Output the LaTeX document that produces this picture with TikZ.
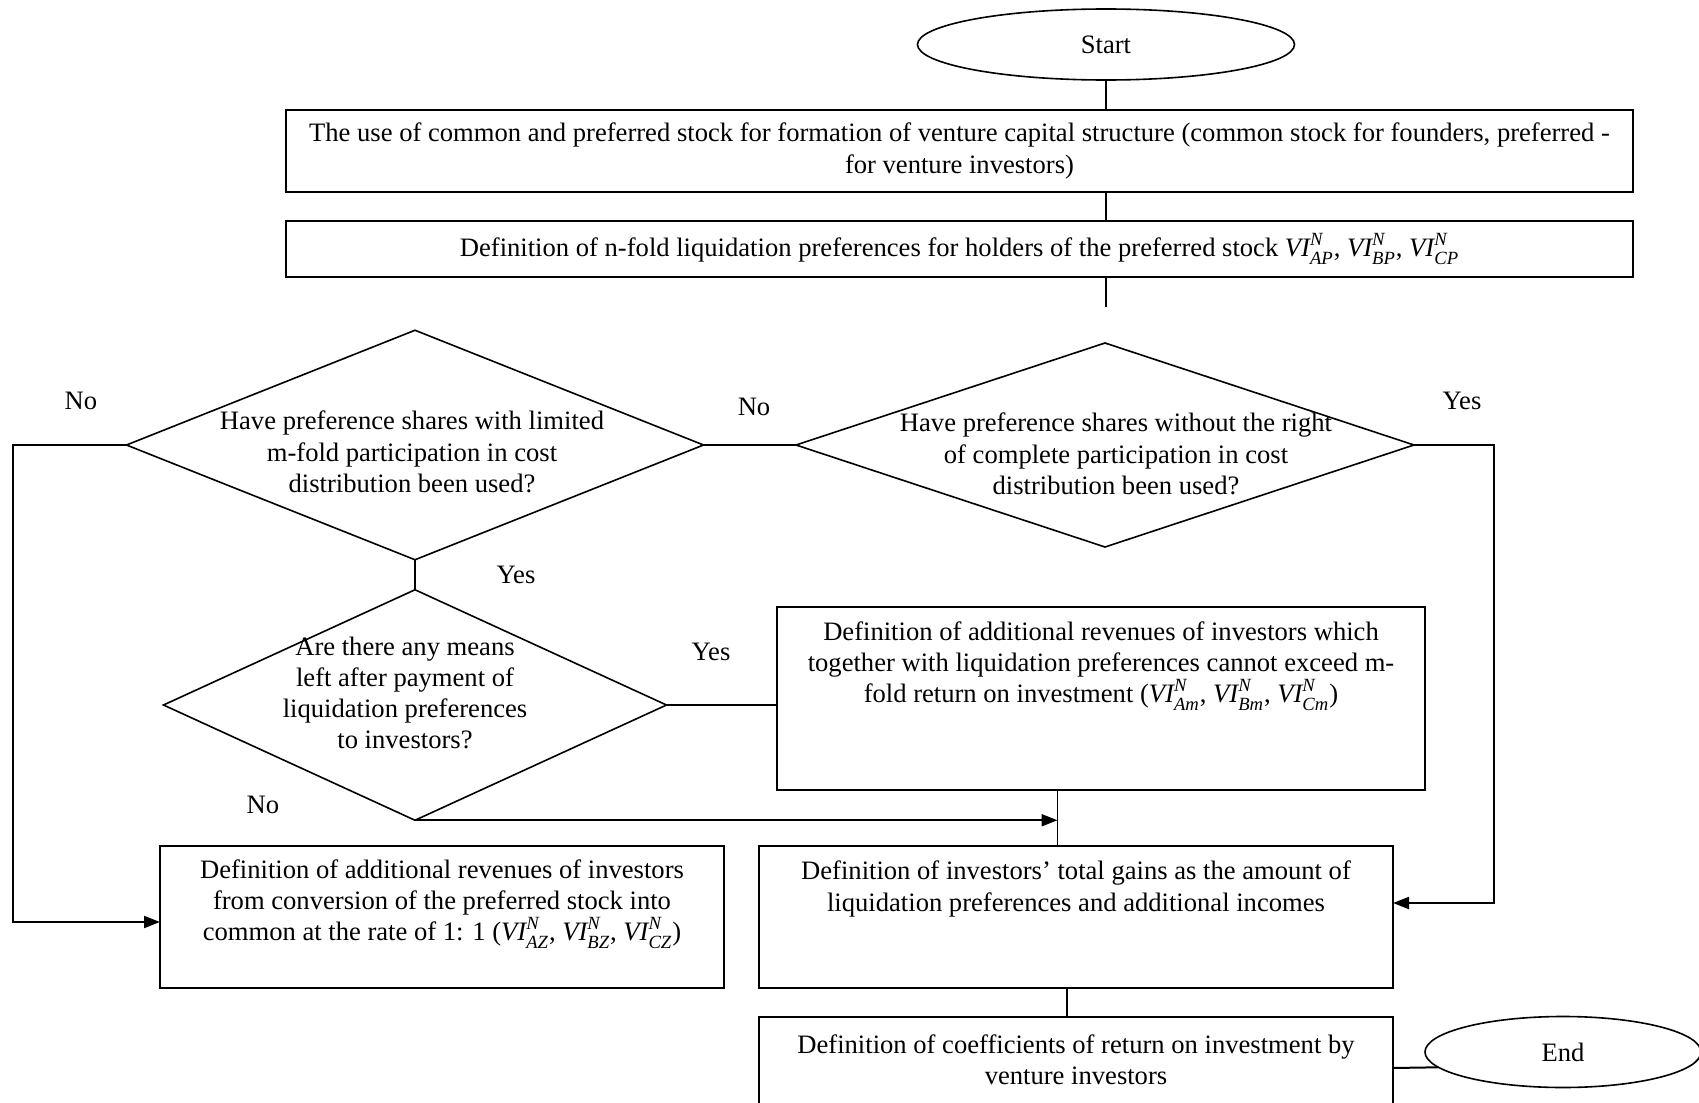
\documentclass[tikz,border=0pt]{standalone}
\usepackage{fontspec}
\setmainfont{Liberation Serif}
\usetikzlibrary{shapes.geometric,arrows.meta}
% investor value symbol VI^N_x set in the text italic
\newcommand{\vinv}[1]{$\mathit{VI}^{\mathit{N}}_{\mathit{#1}}$}
\begin{document}
\begin{tikzpicture}[x=0.5pt,y=-0.5pt,
  every node/.style={font=\fontsize{13.3}{15.6}\selectfont},
  box/.style={draw, line width=1pt, rectangle, inner sep=0pt, outer sep=0pt, align=center},
  dia/.style={draw, line width=0.8pt, diamond, inner sep=0pt, outer sep=0pt},
  term/.style={draw, line width=0.8pt, ellipse, inner sep=0pt, outer sep=0pt},
  txt/.style={align=center, inner sep=0pt},
  lbl/.style={inner sep=0pt},
  link/.style={line width=0.7pt},
  flow/.style={line width=1pt, -{Triangle[length=8pt,width=6pt]}},
  plain/.style={line width=1pt},
]
\useasboundingbox (0,0) rectangle (1699,1103);
\clip (0,0) rectangle (1699,1103);

% terminals
\node[term, minimum width=188.5pt, minimum height=35.5pt] (start) at (1106,44.5) {Start};
\node[term, minimum width=138pt, minimum height=35.5pt] (end) at (1563,1052) {End};

% process boxes
\node[box, minimum width=673.5pt, minimum height=40.75pt] (box1) at (959.5,151)
  {The use of common and preferred stock for formation of venture capital structure (common stock for founders, preferred -\\for venture investors)};
\node[box, minimum width=673.5pt, minimum height=28pt] (box2) at (959.5,249)
  {Definition of n-fold liquidation preferences for holders of the preferred stock \vinv{AP}, \vinv{BP}, \vinv{CP}};
\node[box, minimum width=324pt, minimum height=91.5pt] (boxR) at (1101,698.5) {};
\node[txt] (textR) at (1101,666)
  {Definition of additional revenues of investors which\\together with liquidation preferences cannot exceed m-\\fold return on investment (\vinv{Am}, \vinv{Bm}, \vinv{Cm})};
\node[box, minimum width=282pt, minimum height=71pt] (boxL) at (442,917) {};
\node[txt] (textL) at (442,904)
  {Definition of additional revenues of investors\\from conversion of the preferred stock into\\common at the rate of 1: 1 (\vinv{AZ}, \vinv{BZ}, \vinv{CZ})};
\node[box, minimum width=317.25pt, minimum height=71pt] (boxM) at (1075.75,917) {};
\node[txt] (textM) at (1076,889)
  {Definition of investors’ total gains as the amount of\\liquidation preferences and additional incomes};
\node[box, minimum width=317.25pt, minimum height=49pt] (boxB) at (1075.75,1066) {};
\node[txt] (textB) at (1076,1060)
  {Definition of coefficients of return on investment by\\venture investors};

% decisions
\node[dia, minimum width=288.5pt, minimum height=114.75pt] (d1) at (415,445) {};
\node[txt] (textD1) at (412,452)
  {Have preference shares with limited\\m-fold participation in cost\\distribution been used?};
\node[dia, minimum width=309pt, minimum height=102pt] (d2) at (1105,445) {};
\node[txt] (textD2) at (1116,454)
  {Have preference shares without the right\\of complete participation in cost\\distribution been used?};
\node[dia, minimum width=251.5pt, minimum height=115.25pt] (d3) at (415,705) {};
\node[txt] (textD3) at (405,693)
  {Are there any means\\left after payment of\\liquidation preferences\\to investors?};

% branch labels
\node[lbl] (no1) at (81,401) {No};
\node[lbl] (no2) at (754,407) {No};
\node[lbl] (yes1) at (1462,401) {Yes};
\node[lbl] (yes2) at (516,575) {Yes};
\node[lbl] (yes3) at (711,652) {Yes};
\node[lbl] (no3) at (263,805) {No};

% routing points
\coordinate (gap) at (1106,307);
\coordinate (lx) at (13,922);
\coordinate (rx) at (1494,903);
\coordinate (rjoin) at (1057.5,790);
\coordinate (mjoin) at (1067,988);
\coordinate (bjoin) at (1393,1068);

% connectors
\draw[link] (start.south) -- (start.south |- box1.north);
\draw[link] (box1.south -| start) -- (box2.north -| start);
\draw[link] (box2.south -| start) -- (gap);
\draw[plain] (d1.east) -- (d2.west);
\draw[flow] (d1.west) -| (lx) -- (boxL.west |- lx);
\draw[flow] (d2.east) -| (rx) -- (boxM.east |- rx);
\draw[link] (d1.south) -- (d3.north);
\draw[plain] (d3.east) -- (boxR.west |- d3.east);
\draw[flow] (d3.south) -- (d3.south -| rjoin);
\draw[link] (rjoin) -- (rjoin |- boxM.north);
\draw[link] (mjoin) -- (mjoin |- boxB.north);
\draw[plain] (bjoin) -- (end.187);
\end{tikzpicture}
\end{document}
